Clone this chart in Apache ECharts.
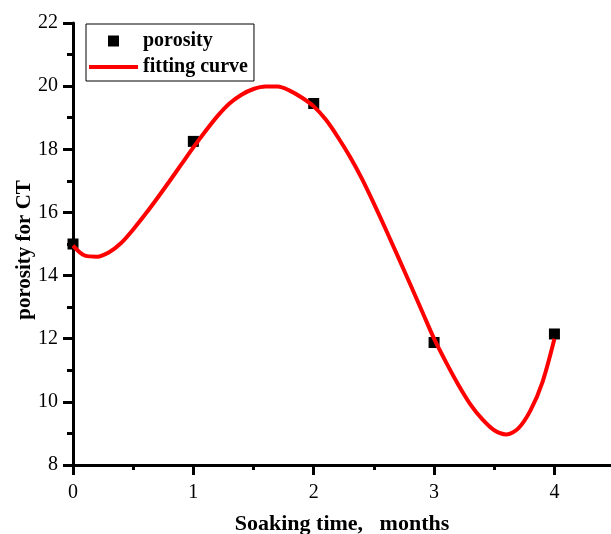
<!DOCTYPE html>
<html>
<head>
<meta charset="utf-8">
<script src="https://cdn.jsdelivr.net/npm/echarts@6/dist/echarts.min.js"></script>
<style>
  html, body { margin: 0; padding: 0; background: #fff; }
  #main { width: 611px; height: 534px; }
</style>
</head>
<body>
<div id="main"></div>
<script>
// measured points
var timeMonths = [0, 1, 2, 3, 4];
var porosity = [15.0, 18.25, 19.45, 11.88, 12.15];

// fitting curve, every 0.1 month
var fitX = [0, 0.1, 0.2, 0.3, 0.4, 0.5, 0.6, 0.7, 0.8, 0.9, 1.0, 1.1, 1.2, 1.3, 1.4, 1.5, 1.6, 1.7, 1.8, 1.9,
            2.0, 2.1, 2.2, 2.3, 2.4, 2.5, 2.6, 2.7, 2.8, 2.9, 3.0, 3.1, 3.2, 3.3, 3.4, 3.5, 3.6, 3.7, 3.8, 3.9, 4.0];
var fitY = [14.95, 14.63, 14.6, 14.74, 15.03, 15.46, 15.94, 16.45, 16.98, 17.52, 18.06, 18.57, 19.05, 19.45, 19.73, 19.91, 19.99, 19.99, 19.86, 19.64,
            19.36, 18.94, 18.39, 17.77, 17.07, 16.28, 15.45, 14.6, 13.74, 12.87, 12.0, 11.25, 10.55, 9.93, 9.45, 9.1, 8.97, 9.16, 9.72, 10.62, 12.0];

var xTicks = [0, 1, 2, 3, 4];
var xMinorTicks = [0.5, 1.5, 2.5, 3.5];

var serif = 'Liberation Serif';

var myChart = echarts.init(document.getElementById('main'));

var option = {
    animation: false,
    grid: { left: 73, right: 0, top: 23, bottom: 69, containLabel: false, outerBoundsMode: 'none' },
    legend: {
        left: 86, top: 24,
        orient: 'vertical',
        borderColor: '#000', borderWidth: 1,
        padding: [7, 6, 4, 1],
        itemWidth: 49, itemHeight: 11, itemGap: 6,
        textStyle: { fontFamily: serif, fontWeight: 'bold', fontSize: 20, color: '#000' },
        lineStyle: { width: 4 },
        data: [
            { name: 'porosity', icon: 'path://M0,0h10v10h-10z' },
            { name: 'fitting curve', itemStyle: { opacity: 0 } }
        ]
    },
    xAxis: [{
        type: 'value', min: 0, max: 4.47, position: 'bottom',
        name: 'Soaking time,   months', nameLocation: 'middle', nameGap: 48,
        nameMoveOverlap: false,
        nameTextStyle: { fontFamily: serif, fontWeight: 'bold', fontSize: 22, color: '#000' },
        axisLine: { lineStyle: { color: '#000', width: 3 } },
        axisTick: { customValues: xTicks, length: 10, lineStyle: { color: '#000', width: 3 } },
        axisLabel: { customValues: xTicks, margin: 18, fontFamily: serif, fontSize: 20, color: '#000' },
        splitLine: { show: false }
    }, {
        type: 'value', min: 0, max: 4.47, position: 'bottom',
        axisLine: { show: false },
        axisTick: { customValues: xMinorTicks, length: 5, lineStyle: { color: '#000', width: 3 } },
        axisLabel: { show: false },
        splitLine: { show: false }
    }],
    yAxis: {
        type: 'value', min: 8, max: 22, interval: 2,
        name: 'porosity for CT', nameLocation: 'middle', nameGap: 38,
        nameMoveOverlap: false,
        nameTextStyle: { fontFamily: serif, fontWeight: 'bold', fontSize: 21, color: '#000', padding: [0, 12, 0, 0] },
        axisLine: { show: true, lineStyle: { color: '#000', width: 3 } },
        axisTick: { show: true, length: 10, lineStyle: { color: '#000', width: 3 } },
        minorTick: { show: true, splitNumber: 2, length: 6, lineStyle: { color: '#000', width: 3 } },
        axisLabel: { margin: 15, fontFamily: serif, fontSize: 20, color: '#000' },
        splitLine: { show: false }
    },
    series: [{
        name: 'porosity',
        type: 'scatter',
        symbol: 'rect',
        symbolSize: 11,
        symbolKeepAspect: true,
        z: 2,
        itemStyle: { color: '#000', opacity: 1 },
        data: timeMonths.map(function (t, i) { return [t, porosity[i]]; })
    }, {
        name: 'fitting curve',
        type: 'line',
        smooth: 0.3,
        symbol: 'none',
        z: 3,
        lineStyle: { color: '#ff0000', width: 4 },
        itemStyle: { color: '#ff0000' },
        data: fitX.map(function (t, i) { return [t, fitY[i]]; })
    }]
};
myChart.setOption(option);
</script>
</body>
</html>
